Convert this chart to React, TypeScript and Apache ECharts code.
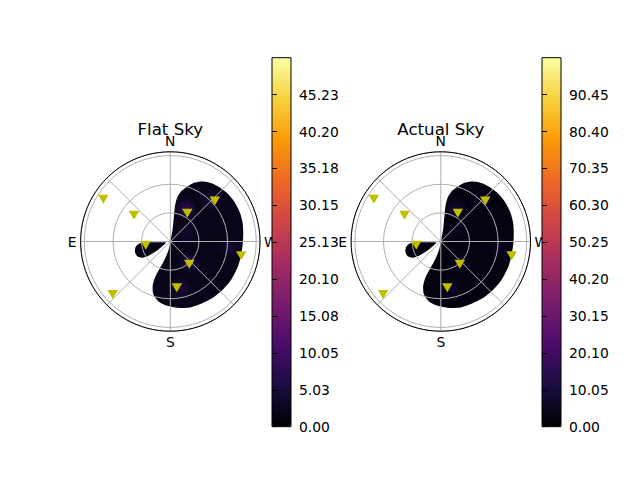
import React, { useEffect, useRef } from 'react';
import * as echarts from 'echarts';

const INFERNO = ['#000004', '#1b0c41', '#4a0c6b', '#781c6d', '#a52c60', '#cf4446', '#ed6925', '#fb9b06', '#f7d13d', '#fcffa4'];

const TITLES = ['Flat Sky', 'Actual Sky'];
const CARDINAL_ANGLES = [0, 90, 180, 270];
const CARDINAL_LABELS = ['N', 'E', 'S', 'W'];

// markers: radial distance and azimuth (deg, N = 0, E = 90)
const MARKER_R = [83, 47, 26, 82, 34.6, 63, 75.8, 31, 49];
const MARKER_AZ = [57.7, 54, 98.6, 132.6, 329, 312.3, 258.6, 220, 188];

// outline of the main patch (radius, azimuth)
const MAIN_R = [0, 13.1, 27.1, 37.6, 46.6, 54.4, 61.2, 66.9, 71.7, 74.8, 76.8, 78.4, 79.0, 79.0, 78.3, 77.0, 76.1, 75.5, 75.6, 75.3, 74.6, 73.9, 72.7, 72.1, 69.7, 66.9, 63.5, 57.9, 50.0, 41.0, 31.2, 21.3, 10.0];
const MAIN_AZ = [0, 349.3, 351.9, 352.5, 351, 347.4, 342.1, 337.3, 331.2, 324.7, 317.4, 309.2, 301.1, 292.6, 284.7, 277.0, 269.2, 261.2, 250.3, 238.4, 228, 217.5, 206.8, 196.6, 185.5, 175.2, 168, 162.1, 158.3, 156.9, 158.3, 161.9, 167.9];

// outline of the small patch
const SMALL_R = [4.7, 14.4, 24.8, 32.5, 36.8, 38.6, 38.0, 33.5, 26.2, 17.8, 10.6];
const SMALL_AZ = [105, 93.5, 92.5, 93.8, 99.0, 106.2, 114.0, 120.3, 123.3, 124.5, 120.8];

// base value of the patches (flat, actual)
const PATCH_VALUE = [1.8, 2.2];

// faint local maxima inside the patch
const GLOW_R = [38, 60, 29, 50, 62, 20];
const GLOW_AZ = [334, 316, 222, 192, 264, 300];
const GLOW_FLAT = [8, 5, 6, 6, 5, 4];
const GLOW_ACTUAL = [9, 6, 7, 7, 6, 5];

const FLAT_TICKS = [0, 5.02555, 10.0511, 15.07665, 20.1022, 25.12775, 30.1533, 35.17885, 40.2044, 45.22995];
const FLAT_TICK_LABELS = ['0.00', '5.03', '10.05', '15.08', '20.10', '25.13', '30.15', '35.18', '40.20', '45.23'];
const FLAT_MAX = 50.2555;
const ACTUAL_TICKS = [0, 10.05, 20.1, 30.15, 40.2, 50.25, 60.3, 70.35, 80.4, 90.45];
const ACTUAL_TICK_LABELS = ['0.00', '10.05', '20.10', '30.15', '40.20', '50.25', '60.30', '70.35', '80.40', '90.45'];
const ACTUAL_MAX = 100.5;

const FONT = 'DejaVu Sans';

function labelFor(ticks: number[], labels: string[]) {
  return (v: number) => {
    const i = ticks.findIndex((t) => Math.abs(t - v) < 1e-6);
    return i >= 0 ? labels[i] : '';
  };
}

export default function App() {
  const ref = useRef<HTMLDivElement>(null);
  useEffect(() => {
    if (!ref.current) return;
    const chart = echarts.init(ref.current, undefined, { renderer: 'svg' });

    const centers = [170.3, 440.8];
    const cy = 241.5;
    const R = 89.7;
    const bars = [272, 542];
    const maxes = [FLAT_MAX, ACTUAL_MAX];
    const ticks = [FLAT_TICKS, ACTUAL_TICKS];
    const tickLabels = [FLAT_TICK_LABELS, ACTUAL_TICK_LABELS];
    const glows = [GLOW_FLAT, GLOW_ACTUAL];

    const polar: any[] = [];
    const angleAxis: any[] = [];
    const radiusAxis: any[] = [];
    const series: any[] = [];
    const visualMap: any[] = [];
    const grid: any[] = [];
    const xAxis: any[] = [];
    const yAxis: any[] = [];
    const title: any[] = [];

    for (let k = 0; k < 2; k++) {
      polar.push({ center: [centers[k], cy], radius: R });
      angleAxis.push({
        polarIndex: k,
        type: 'value',
        min: 0,
        max: 360,
        interval: 45,
        startAngle: 90,
        clockwise: false,
        z: 3,
        axisLine: { show: true, lineStyle: { color: '#000', width: 1 } },
        axisTick: { show: false },
        splitLine: { show: true, lineStyle: { color: '#b0b0b0', width: 1 } },
        axisLabel: {
          margin: 4,
          color: '#000',
          fontSize: 13.89,
          fontFamily: FONT,
          formatter: (v: number) => {
            const i = CARDINAL_ANGLES.indexOf(v);
            return i >= 0 ? CARDINAL_LABELS[i] : '';
          },
        },
      });
      radiusAxis.push({
        polarIndex: k,
        type: 'value',
        min: 0,
        max: 94,
        interval: 30,
        z: 3,
        axisLine: { show: false },
        axisTick: { show: false },
        axisLabel: { show: false },
        splitLine: { show: true, lineStyle: { color: '#b0b0b0', width: 1 } },
      });

      const base = series.length;
      series.push({
        type: 'custom',
        coordinateSystem: 'polar',
        polarIndex: k,
        z: 1,
        silent: true,
        data: [
          [0, 0, PATCH_VALUE[k], 0],
          [0, 0, PATCH_VALUE[k], 1],
        ],
        renderItem: (params: any, api: any) => {
          const which = api.value(3);
          const rs = which === 0 ? MAIN_R : SMALL_R;
          const az = which === 0 ? MAIN_AZ : SMALL_AZ;
          const points = rs.map((r, i) => api.coord([r, az[i]]));
          return {
            type: 'polygon',
            shape: { points, smooth: 0.25 },
            style: { fill: api.visual('color'), stroke: null },
          };
        },
      });
      series.push({
        type: 'custom',
        coordinateSystem: 'polar',
        polarIndex: k,
        z: 1.5,
        silent: true,
        data: GLOW_R.map((r, i) => [r, GLOW_AZ[i], glows[k][i]]),
        renderItem: (params: any, api: any) => {
          const p = api.coord([api.value(0), api.value(1)]);
          const c = api.visual('color');
          return {
            type: 'circle',
            shape: { cx: p[0], cy: p[1], r: 12 },
            style: {
              fill: new echarts.graphic.RadialGradient(0.5, 0.5, 0.5, [
                { offset: 0, color: c },
                { offset: 1, color: echarts.color.modifyAlpha(c, 0) },
              ]),
            },
          };
        },
      });
      series.push({
        type: 'scatter',
        coordinateSystem: 'polar',
        polarIndex: k,
        z: 5,
        silent: true,
        symbol: 'triangle',
        symbolRotate: 180,
        symbolSize: [10.5, 9],
        itemStyle: { color: '#bfbf00', opacity: 1 },
        data: MARKER_R.map((r, i) => [r, MARKER_AZ[i]]),
      });

      visualMap.push({
        type: 'continuous',
        min: 0,
        max: maxes[k],
        dimension: 2,
        seriesIndex: [base, base + 1],
        calculable: false,
        hoverLink: false,
        left: bars[k],
        top: 57.7,
        itemWidth: 19,
        itemHeight: 369,
        padding: 0,
        text: null,
        z: 4,
        inRange: { color: INFERNO },
      });

      grid.push({
        left: bars[k],
        top: 57.7,
        width: 19,
        height: 369,
        show: true,
        borderColor: '#000',
        borderWidth: 1,
        backgroundColor: 'transparent',
        z: 10,
      });
      xAxis.push({ gridIndex: k, type: 'value', show: false, min: 0, max: 1 });
      yAxis.push({
        gridIndex: k,
        type: 'value',
        position: 'right',
        min: 0,
        max: maxes[k],
        z: 10,
        axisLine: { show: false },
        splitLine: { show: false },
        axisTick: { show: true, length: 5, lineStyle: { color: '#000', width: 1 }, customValues: ticks[k] },
        axisLabel: {
          customValues: ticks[k],
          margin: 8,
          color: '#000',
          fontSize: 13.89,
          fontFamily: FONT,
          formatter: labelFor(ticks[k], tickLabels[k]),
        },
      });

      title.push({
        text: TITLES[k],
        left: centers[k],
        top: 121,
        padding: 0,
        textAlign: 'center',
        textStyle: { fontSize: 16.67, fontWeight: 'normal', color: '#000', fontFamily: FONT },
      });
    }

    chart.setOption({
      animation: false,
      backgroundColor: '#fff',
      textStyle: { fontFamily: FONT },
      title,
      polar,
      angleAxis,
      radiusAxis,
      grid,
      xAxis,
      yAxis,
      visualMap,
      series,
    });
    return () => chart.dispose();
  }, []);
  return <div ref={ref} style={{ position: 'fixed', left: 0, top: 0, width: 640, height: 480 }} />;
}
